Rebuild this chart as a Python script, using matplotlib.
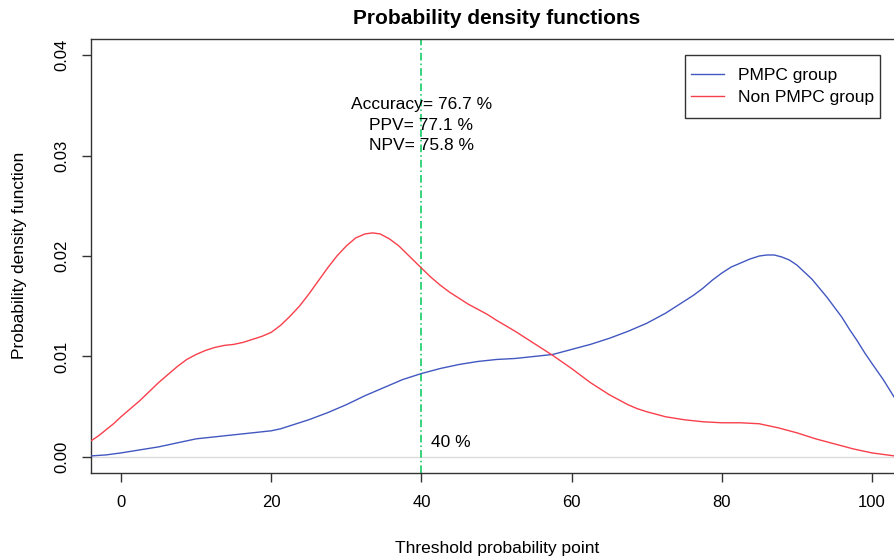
import numpy as np
from matplotlib import pyplot as plt
from matplotlib.patches import Rectangle

plt.rcParams['font.family'] = ['Liberation Sans', 'DejaVu Sans']

# PMPC group density
x_pmpc = [-4, -2, 0, 2.5, 5, 7.5, 8.75, 10, 11.25, 12.5, 15, 17.5, 18.75, 20, 21.25,
          22.5, 25, 27.5, 30, 32.5, 35, 37.5, 40, 42.5, 45, 47.5, 50, 52.5, 55, 57.5,
          60, 62.5, 65, 67.5, 70, 72.5, 75, 76.25, 77.5, 78.75, 80, 81.25, 82.5,
          83.75, 85, 86, 87, 88, 89, 90, 91, 92, 93, 94, 95, 96, 97, 98, 99, 100,
          101.5, 103, 105]
y_pmpc = [0.0001, 0.0002, 0.0004, 0.0007, 0.0010, 0.0014, 0.0016, 0.0018, 0.0019,
          0.0020, 0.0022, 0.0024, 0.0025, 0.0026, 0.0028, 0.0031, 0.0037, 0.0044,
          0.0052, 0.0061, 0.0069, 0.0077, 0.0083, 0.0088, 0.0092, 0.0095, 0.0097,
          0.0098, 0.0100, 0.0102, 0.0107, 0.0112, 0.0118, 0.0125, 0.0133, 0.0143,
          0.0155, 0.0161, 0.0168, 0.0176, 0.0183, 0.0189, 0.0193, 0.0197, 0.0200,
          0.0201, 0.0201, 0.0199, 0.0196, 0.0191, 0.0184, 0.0177, 0.0168, 0.0159,
          0.0149, 0.0139, 0.0127, 0.0116, 0.0104, 0.0093, 0.0077, 0.0059, 0.0040]

# Non PMPC group density
x_non = [-4, -3, -2, -1, 0, 1.25, 2.5, 3.75, 5, 6.25, 7.5, 8.75, 10, 11.25, 12.5,
         13.75, 15, 16.25, 17.5, 18.75, 20, 21.25, 22.5, 23.75, 25, 26.25, 27.5,
         28.75, 30, 31.25, 32.5, 33.5, 34.5, 35.75, 37, 38.5, 40, 41.25, 42.5, 43.75,
         45, 46.25, 47.5, 48.75, 50, 52.5, 55, 57.5, 60, 61.25, 62.5, 63.75, 65,
         66.25, 67.5, 68.75, 70, 72.5, 75, 77.5, 80, 82.5, 85, 87.5, 90, 92.5, 95,
         97.5, 100, 103, 105]
y_non = [0.0016, 0.0021, 0.0027, 0.0033, 0.0040, 0.0048, 0.0056, 0.0065, 0.0074,
         0.0082, 0.0090, 0.0097, 0.0102, 0.0106, 0.0109, 0.0111, 0.0112, 0.0114,
         0.0117, 0.0120, 0.0124, 0.0131, 0.0140, 0.0150, 0.0162, 0.0175, 0.0188,
         0.0200, 0.0210, 0.0218, 0.0222, 0.0223, 0.0222, 0.0217, 0.0210, 0.0199,
         0.0188, 0.0179, 0.0171, 0.0164, 0.0158, 0.0152, 0.0147, 0.0142, 0.0136,
         0.0125, 0.0113, 0.0101, 0.0088, 0.0081, 0.0074, 0.0068, 0.0062, 0.0057,
         0.0052, 0.0048, 0.0045, 0.0040, 0.0037, 0.0035, 0.0034, 0.0034, 0.0033,
         0.0029, 0.0024, 0.0018, 0.0013, 0.0008, 0.0004, 0.0001, 0.0000]

threshold = 40
stats = ['Accuracy= 76.7 %', 'PPV= 77.1 %', 'NPV= 75.8 %']
labels = ['PMPC group', 'Non PMPC group']

fig = plt.figure(figsize=(8.95, 5.59), dpi=100)
# right edge of the plot box lies past the figure, as in the original
ax = fig.add_axes([91/895, 1-473/559, (902-91)/895, (473-39)/559])

ax.axhline(0, color='#dcdcdc', lw=1, zorder=1)
ax.plot(x_pmpc, y_pmpc, color='#4258c0', lw=1.0, label=labels[0], zorder=3)
ax.plot(x_non, y_non, color='#f8404c', lw=1.0, label=labels[1], zorder=3)
ax.axvline(threshold, color='#00c858', lw=1.1, linestyle=(0, (5, 2, 1, 2)), zorder=2)

ax.text(threshold, 0.0351, stats[0], ha='center', va='center', fontsize=12.5)
ax.text(threshold, 0.0330, stats[1], ha='center', va='center', fontsize=12.5)
ax.text(threshold, 0.0310, stats[2], ha='center', va='center', fontsize=12.5)
ax.text(41.3, 0.0014, '40 %', ha='left', va='center', fontsize=12.5)

ax.set_xlim(-4, 104)
ax.set_ylim(-0.0016, 0.0416)
ax.set_xticks([0, 20, 40, 60, 80, 100])
ax.set_yticks([0, 0.01, 0.02, 0.03, 0.04])
ax.set_yticklabels(['0.00', '0.01', '0.02', '0.03', '0.04'], rotation=90, va='center')
ax.tick_params(axis='both', direction='out', length=6.5, width=1, labelsize=12, pad=9,
               color='#333333')
for s in ax.spines.values():
    s.set_color('#333333')
    s.set_linewidth(1)

# legend box drawn separately (more vertical than horizontal padding)
bx0, bx1, by0, by1 = 685/895, 880/895, 1-118/559, 1-55/559
ax.add_patch(Rectangle((bx0, by0), bx1-bx0, by1-by0, transform=fig.transFigure,
                       facecolor='white', edgecolor='#333333', lw=1, zorder=5,
                       clip_on=False))
leg = ax.legend(loc='center', bbox_to_anchor=((bx0+bx1)/2, (by0+by1)/2),
                bbox_transform=fig.transFigure, fontsize=12.5, frameon=False,
                borderaxespad=0, handlelength=1.9, handletextpad=0.85,
                labelspacing=0.35, borderpad=0)
leg.set_zorder(6)

fig.text(497/895, 1-19/559, 'Probability density functions', ha='center', va='center',
         fontsize=15, fontweight='bold')
fig.text(497/895, 1-548/559, 'Threshold probability point', ha='center', va='center',
         fontsize=12.5)
fig.text(20/895, 1-255/559, 'Probability density function', ha='center', va='center',
         rotation=90, fontsize=12.5)

fig.savefig('out.png', dpi=100)
